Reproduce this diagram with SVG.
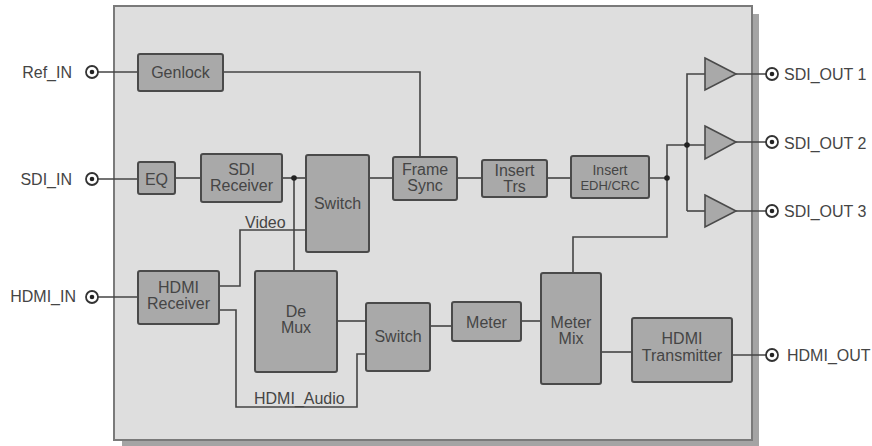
<svg xmlns="http://www.w3.org/2000/svg" width="872" height="446" viewBox="0 0 872 446">
<style>
text{font-family:"Liberation Sans",Arial,sans-serif;font-size:16px;fill:#454545}
.c{text-anchor:middle}
.e{text-anchor:end}
.blk{fill:#a9a9a9;stroke:#4a4a4a;stroke-width:2}
.tri{fill:#a9a9a9;stroke:#4a4a4a;stroke-width:1.6;stroke-linejoin:miter}
.ln{fill:none;stroke:#444;stroke-width:1.6}
.port{fill:#fff;stroke:#333;stroke-width:1.8}
.dot{fill:#222}
</style>
<rect width="872" height="446" fill="#fff"/>
<g id="chassis">
<rect x="122" y="14" width="637" height="432" fill="#a4a4a4"/>
<rect x="114" y="6" width="638" height="434" fill="#dedede" stroke="#7a7a7a" stroke-width="2"/>
</g>
<g id="connectors">
<path class="ln" d="M98 72H138"/>
<path class="ln" d="M223 72H420V157"/>
<path class="ln" d="M98 179H138"/>
<path class="ln" d="M175 178H201"/>
<path class="ln" d="M282 178H306"/>
<path class="ln" d="M294 178V271"/>
<path class="ln" d="M369 178H393"/>
<path class="ln" d="M457 178H482"/>
<path class="ln" d="M547 178H571"/>
<path class="ln" d="M649 178H667V145H705"/>
<path class="ln" d="M687 211V74H705"/>
<path class="ln" d="M687 211H705"/>
<path class="ln" d="M667 178V237H573V273"/>
<path class="ln" d="M736 74H766M736 142H766M736 211H766"/>
<path class="ln" d="M98 297H138"/>
<path class="ln" d="M219 286H240V230H306"/>
<path class="ln" d="M219 310H236V407H357V354H366"/>
<path class="ln" d="M337 321H366"/>
<path class="ln" d="M430 326H452"/>
<path class="ln" d="M521 321H541"/>
<path class="ln" d="M601 352H632"/>
<path class="ln" d="M732 355H766"/>
<circle class="dot" cx="294" cy="178" r="2.8"/>
<circle class="dot" cx="667" cy="178" r="2.8"/>
<circle class="dot" cx="687" cy="145" r="2.8"/>
<text x="245" y="228">Video</text>
<text x="254" y="404">HDMI_Audio</text>
</g>
<g id="ref_in">
<circle class="port" cx="92" cy="72" r="6"/><circle class="dot" cx="92" cy="72" r="2.3"/>
<text class="e" x="72" y="78">Ref_IN</text>
</g>
<g id="sdi_in">
<circle class="port" cx="92" cy="179" r="6"/><circle class="dot" cx="92" cy="179" r="2.3"/>
<text class="e" x="72" y="185">SDI_IN</text>
</g>
<g id="hdmi_in">
<circle class="port" cx="92" cy="297" r="6"/><circle class="dot" cx="92" cy="297" r="2.3"/>
<text class="e" x="76" y="302">HDMI_IN</text>
</g>
<g id="genlock">
<rect class="blk" x="138" y="54" width="85" height="37" rx="2"/>
<text class="c" x="180.5" y="78">Genlock</text>
</g>
<g id="eq">
<rect class="blk" x="138" y="162" width="37" height="32" rx="2"/>
<text class="c" x="156.5" y="185">EQ</text>
</g>
<g id="sdi_receiver">
<rect class="blk" x="201" y="154" width="81" height="48" rx="2"/>
<text class="c" x="241.5" y="175">SDI</text>
<text class="c" x="241.5" y="191">Receiver</text>
</g>
<g id="switch_video">
<rect class="blk" x="306" y="155" width="63" height="97" rx="2"/>
<text class="c" x="337.5" y="209">Switch</text>
</g>
<g id="frame_sync">
<rect class="blk" x="393" y="157" width="64" height="43" rx="2"/>
<text class="c" x="425" y="175">Frame</text>
<text class="c" x="425" y="191">Sync</text>
</g>
<g id="insert_trs">
<rect class="blk" x="482" y="160" width="65" height="37" rx="2"/>
<text class="c" x="514.5" y="176">Insert</text>
<text class="c" x="514.5" y="192">Trs</text>
</g>
<g id="insert_edh">
<rect class="blk" x="571" y="156" width="78" height="42" rx="2"/>
<text class="c" x="610" y="175" style="font-size:14px">Insert</text>
<text class="c" x="610" y="190" style="font-size:13px">EDH/CRC</text>
</g>
<g id="driver1"><path class="tri" d="M705 58L736 74L705 90Z"/></g>
<g id="driver2"><path class="tri" d="M705 126L736 142L705 159Z"/></g>
<g id="driver3"><path class="tri" d="M705 195L736 211L705 227Z"/></g>
<g id="sdi_out1">
<circle class="port" cx="772" cy="74" r="6"/><circle class="dot" cx="772" cy="74" r="2.3"/>
<text x="784" y="80">SDI_OUT 1</text>
</g>
<g id="sdi_out2">
<circle class="port" cx="772" cy="142" r="6"/><circle class="dot" cx="772" cy="142" r="2.3"/>
<text x="784" y="149">SDI_OUT 2</text>
</g>
<g id="sdi_out3">
<circle class="port" cx="772" cy="211" r="6"/><circle class="dot" cx="772" cy="211" r="2.3"/>
<text x="784" y="217">SDI_OUT 3</text>
</g>
<g id="hdmi_receiver">
<rect class="blk" x="138" y="271" width="81" height="53" rx="2"/>
<text class="c" x="178.5" y="293">HDMI</text>
<text class="c" x="178.5" y="309">Receiver</text>
</g>
<g id="demux">
<rect class="blk" x="255" y="271" width="82" height="101" rx="2"/>
<text class="c" x="296" y="317">De</text>
<text class="c" x="296" y="333">Mux</text>
</g>
<g id="switch_audio">
<rect class="blk" x="366" y="303" width="64" height="68" rx="2"/>
<text class="c" x="398" y="342">Switch</text>
</g>
<g id="meter">
<rect class="blk" x="452" y="302" width="69" height="39" rx="2"/>
<text class="c" x="486.5" y="328">Meter</text>
</g>
<g id="meter_mix">
<rect class="blk" x="541" y="273" width="60" height="111" rx="2"/>
<text class="c" x="571" y="328">Meter</text>
<text class="c" x="571" y="344">Mix</text>
</g>
<g id="hdmi_transmitter">
<rect class="blk" x="632" y="318" width="100" height="64" rx="2"/>
<text class="c" x="682" y="344">HDMI</text>
<text class="c" x="682" y="361">Transmitter</text>
</g>
<g id="hdmi_out">
<circle class="port" cx="772" cy="355" r="6"/><circle class="dot" cx="772" cy="355" r="2.3"/>
<text x="787" y="361">HDMI_OUT</text>
</g>
</svg>
